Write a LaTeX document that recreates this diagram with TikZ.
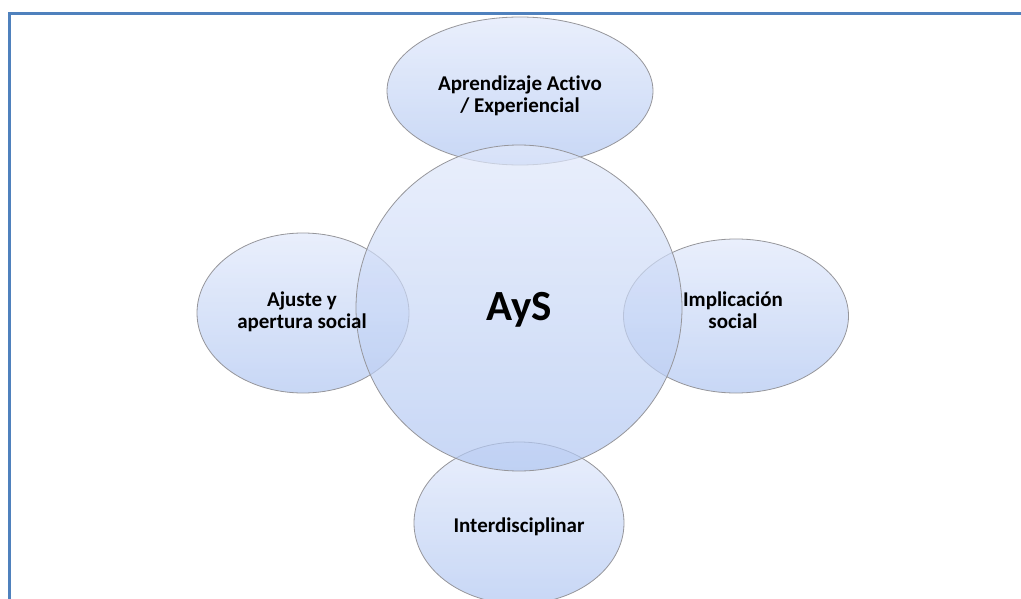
\documentclass[tikz,border=0pt]{standalone}
\usepackage{fontspec}
\setmainfont{Carlito}[Ligatures=NoCommon]
\usetikzlibrary{shapes.geometric}
\definecolor{frameblue}{RGB}{79,129,189}
\definecolor{shtop}{RGB}{224,232,251}
\definecolor{shbot}{RGB}{176,198,241}
\definecolor{edgegray}{RGB}{150,150,155}
\tikzset{
  bubble/.style={ellipse, draw=edgegray, line width=0.8pt, top color=shtop, bottom color=shbot,
    fill opacity=0.7, draw opacity=1, inner sep=0pt},
  txt/.style={inner sep=0pt, align=center, font=\bfseries\fontsize{21}{22}\selectfont},
}
\begin{document}
\begin{tikzpicture}[x=1pt,y=-1pt]
\useasboundingbox (0,0) rectangle (1021,599);
\draw[frameblue, line width=3pt] (9,600) -- (9,14) -- (1022,14);
\node[bubble, minimum width=266pt, minimum height=148pt] (top) at (520,91) {};
\node[bubble, minimum width=212pt, minimum height=160pt] (left) at (303,313) {};
\node[bubble, minimum width=225pt, minimum height=154pt] (right) at (736,316) {};
\node[bubble, minimum width=210pt, minimum height=162pt] (bottom) at (519,523) {};
\node[bubble, circle, minimum size=326pt] (center) at (519,308) {};
\node[txt] (toptext) at (520,96) {Aprendizaje Activo\\/ Experiencial};
\node[txt] (lefttext) at (302,312) {Ajuste y\\apertura social};
\node[txt] (righttext) at (733,310) {Implicación\\social};
\node[txt] (bottomtext) at (519,527) {Interdisciplinar};
\node[txt, font=\bfseries\fontsize{43}{48}\selectfont] (centertext) at (519,310) {AyS};
\end{tikzpicture}
\end{document}
